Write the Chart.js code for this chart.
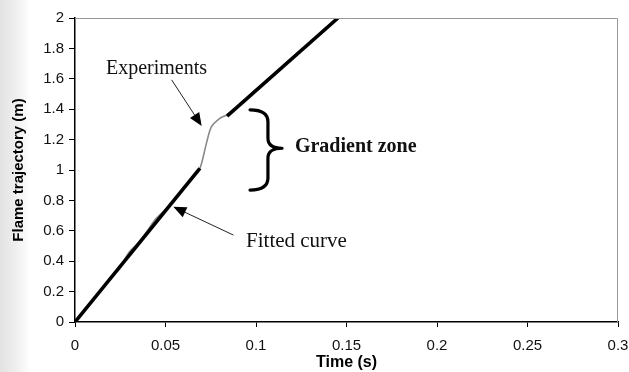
<!DOCTYPE html>
<html>
<head>
<meta charset="utf-8">
<script src="https://cdn.jsdelivr.net/npm/chart.js@4.4.0/dist/chart.umd.min.js"></script>
<style>
  html, body { margin: 0; padding: 0; background: #fff; }
  #wrap { width: 629px; height: 372px; position: relative;
          background: linear-gradient(to right, #e2e2e2 0px, #efefef 16px, #fff 30px); }
</style>
</head>
<body>
<div id="wrap"><canvas id="grafico" width="629" height="372"></canvas></div>
<script>
// data
var expTime = [0, 0.005, 0.01, 0.014, 0.02, 0.024, 0.03, 0.035, 0.04, 0.044, 0.05, 0.055, 0.06, 0.065, 0.069,
               0.0727, 0.0754, 0.08, 0.0837, 0.09, 0.1, 0.11, 0.12, 0.13, 0.14, 0.1453];
var expDist = [0, 0.08, 0.15, 0.2, 0.3, 0.34, 0.46, 0.52, 0.6, 0.67, 0.74, 0.8, 0.88, 0.95, 1.01,
               1.18, 1.285, 1.34, 1.362, 1.42, 1.53, 1.63, 1.74, 1.84, 1.95, 2.0];
var fitLowTime = [0, 0.069];
var fitLowDist = [0, 1.011];
var fitHighTime = [0.084, 0.1453];
var fitHighDist = [1.355, 2.0];
var xTicks = ['0', '0.05', '0.1', '0.15', '0.2', '0.25', '0.3'];
var yTicks = ['0', '0.2', '0.4', '0.6', '0.8', '1', '1.2', '1.4', '1.6', '1.8', '2'];

function pts(xs, ys) {
	return xs.map(function (x, i) { return { x: x, y: ys[i] }; });
}

function arrow(ctx, x1, y1, x2, y2) {
	var a = Math.atan2(y2 - y1, x2 - x1), len = 13, hw = 5.5;
	ctx.beginPath();
	ctx.moveTo(x1, y1);
	ctx.lineTo(x2 - len * Math.cos(a), y2 - len * Math.sin(a));
	ctx.lineWidth = 1;
	ctx.strokeStyle = '#222';
	ctx.stroke();
	ctx.beginPath();
	ctx.moveTo(x2, y2);
	ctx.lineTo(x2 - len * Math.cos(a) + hw * Math.sin(a), y2 - len * Math.sin(a) - hw * Math.cos(a));
	ctx.lineTo(x2 - len * Math.cos(a) - hw * Math.sin(a), y2 - len * Math.sin(a) + hw * Math.cos(a));
	ctx.closePath();
	ctx.fillStyle = '#000';
	ctx.fill();
}

var extras = {
	id: 'extras',
	afterDraw: function (chart) {
		var ctx = chart.ctx, a = chart.chartArea;
		var X = function (v) { return chart.scales.x.getPixelForValue(v); };
		var Y = function (v) { return chart.scales.y.getPixelForValue(v); };
		ctx.save();
		// grey top and right frame
		ctx.strokeStyle = '#999';
		ctx.lineWidth = 1;
		ctx.beginPath();
		ctx.moveTo(a.left, a.top + 0.5);
		ctx.lineTo(a.right - 0.5, a.top + 0.5);
		ctx.lineTo(a.right - 0.5, a.bottom);
		ctx.stroke();

		ctx.fillStyle = '#111';
		ctx.textBaseline = 'alphabetic';
		ctx.font = '20px "Liberation Serif", "Times New Roman", serif';
		ctx.fillText('Experiments', X(0.0171), Y(1.633));
		ctx.font = '21px "Liberation Serif", "Times New Roman", serif';
		ctx.fillText('Fitted curve', X(0.0945), Y(0.494));
		ctx.font = 'bold 20px "Liberation Serif", "Times New Roman", serif';
		ctx.fillText('Gradient zone', X(0.1215), Y(1.119));

		arrow(ctx, X(0.0534), Y(1.593), X(0.070), Y(1.29));
		arrow(ctx, X(0.0875), Y(0.572), X(0.0543), Y(0.758));

		// curly brace
		var xl = X(0.0967), xv = X(0.1066), xt = X(0.1144);
		var yt = Y(1.396), ym = Y(1.143), yb = Y(0.868);
		ctx.beginPath();
		ctx.moveTo(xl, yt);
		ctx.quadraticCurveTo(xv, yt, xv, yt + 12);
		ctx.lineTo(xv, ym - 10);
		ctx.quadraticCurveTo(xv, ym, xt, ym);
		ctx.quadraticCurveTo(xv, ym, xv, ym + 10);
		ctx.lineTo(xv, yb - 12);
		ctx.quadraticCurveTo(xv, yb, xl, yb);
		ctx.lineWidth = 3.2;
		ctx.lineCap = 'round';
		ctx.lineJoin = 'round';
		ctx.strokeStyle = '#000';
		ctx.stroke();
		ctx.restore();
	}
};

var data = {
	datasets: [
		{
			label: 'Fitted curve',
			data: pts(fitLowTime, fitLowDist),
			borderColor: '#000',
			borderWidth: 3.6,
			showLine: true,
			pointRadius: 0
		},
		{
			label: 'Fitted curve (upper)',
			data: pts(fitHighTime, fitHighDist),
			borderColor: '#000',
			borderWidth: 3.6,
			showLine: true,
			pointRadius: 0
		},
		{
			label: 'Experiments',
			data: pts(expTime, expDist),
			borderColor: '#8a8a8a',
			borderWidth: 1.6,
			showLine: true,
			pointRadius: 0,
			tension: 0.3
		}
	]
};

var tickFont = { family: '"Liberation Sans", Arial, sans-serif', size: 15 };

var options = {
	responsive: false,
	animation: false,
	layout: { padding: { top: 18, right: 11, left: 0, bottom: 0 } },
	plugins: { legend: { display: false }, tooltip: { enabled: false } },
	scales: {
		x: {
			type: 'linear',
			min: 0,
			max: 0.3,
			afterFit: function (s) { s.height = 50; s.paddingLeft = 0; s.paddingRight = 0; },
			afterBuildTicks: function (s) {
				s.ticks = xTicks.map(function (t) { return { value: parseFloat(t) }; });
			},
			ticks: {
				color: '#111',
				font: tickFont,
				padding: 10,
				maxRotation: 0,
				autoSkip: false,
				callback: function (v, i) { return xTicks[i]; }
			},
			grid: { drawOnChartArea: false, drawTicks: true, tickLength: 5, color: '#000' },
			border: { display: true, color: '#000', width: 1.5 },
			title: { display: true, text: 'Time (s)', color: '#000',
				font: { family: '"Liberation Sans", Arial, sans-serif', size: 16, weight: 'bold' },
				padding: { top: 0, bottom: 0 } }
		},
		y: {
			type: 'linear',
			min: 0,
			max: 2,
			afterFit: function (s) { s.width = 75; s.paddingTop = 0; s.paddingBottom = 0; },
			afterBuildTicks: function (s) {
				s.ticks = yTicks.map(function (t) { return { value: parseFloat(t) }; });
			},
			ticks: {
				color: '#111',
				font: tickFont,
				padding: 5,
				autoSkip: false,
				callback: function (v, i) { return yTicks[i]; }
			},
			grid: { drawOnChartArea: false, drawTicks: true, tickLength: 6, color: '#000' },
			border: { display: true, color: '#000', width: 1.5 },
			title: { display: true, text: 'Flame trajectory (m)', color: '#000',
				font: { family: '"Liberation Sans", Arial, sans-serif', size: 15, weight: 'bold' },
				padding: { top: 10, bottom: 0 } }
		}
	}
};

var ctx = document.getElementById('grafico').getContext('2d');
new Chart(ctx, { type: 'scatter', data: data, options: options, plugins: [extras] });
</script>
</body>
</html>
